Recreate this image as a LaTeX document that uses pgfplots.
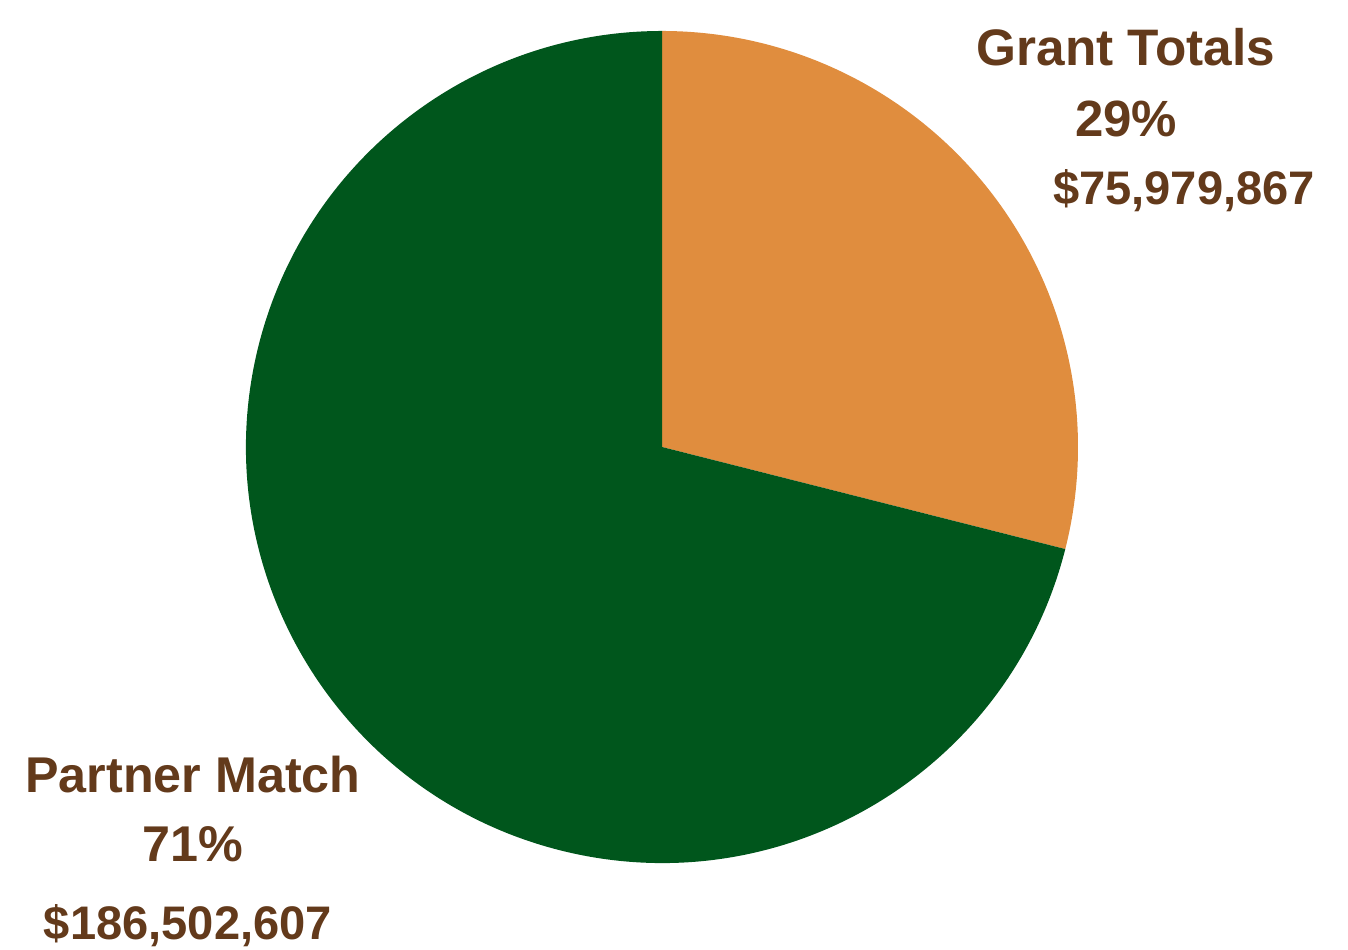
\documentclass[border=0pt]{standalone}
\usepackage{pgfplots}
\pgfplotsset{compat=1.18}
\usepackage{fontspec}
\setmainfont{Liberation Sans}
\definecolor{grantor}{HTML}{E08D3E}
\definecolor{partgr}{HTML}{00561C}
\definecolor{labbr}{HTML}{633A1B}
% values in millions of dollars
\pgfmathsetmacro{\grant}{75.979867}
\pgfmathsetmacro{\partner}{186.502607}
\pgfmathsetmacro{\gfrac}{\grant/(\grant+\partner)}
\pgfmathsetmacro{\gangle}{360*\gfrac}
\pgfmathsetmacro{\gend}{90-\gangle}
\tikzset{lab/.style={font=\bfseries\fontsize{#1}{16}\selectfont, text=labbr, inner sep=0pt, anchor=base}}
\begin{document}
\begin{tikzpicture}
\begin{axis}[
  width=13.48cm, height=9.5cm, scale only axis,
  xmin=0, xmax=1348, ymin=0, ymax=950, y dir=reverse,
  hide axis, clip=false
]
\fill[grantor] (axis cs:662,447) -- ++(90:4.16cm) arc[start angle=90, end angle=\gend, radius=4.16cm] -- cycle;
\fill[partgr] (axis cs:662,447) -- ++(\gend:4.16cm) arc[start angle=\gend, end angle=-270, radius=4.16cm] -- cycle;
\node[lab=14.6] at (axis cs:1126,66) {Grant Totals};
\node[lab=14.5] at (axis cs:1126,137) {29\%};
\node[lab=13.4] at (axis cs:1184,205) {\$75,979,867};
\node[lab=14.3] at (axis cs:193,793) {Partner Match};
\node[lab=14.3] at (axis cs:193,862) {71\%};
\node[lab=13.4] at (axis cs:188,940) {\$186,502,607};
\end{axis}
\pgfresetboundingbox
\path (current axis.south west) rectangle (current axis.north east);
\end{tikzpicture}
\end{document}
